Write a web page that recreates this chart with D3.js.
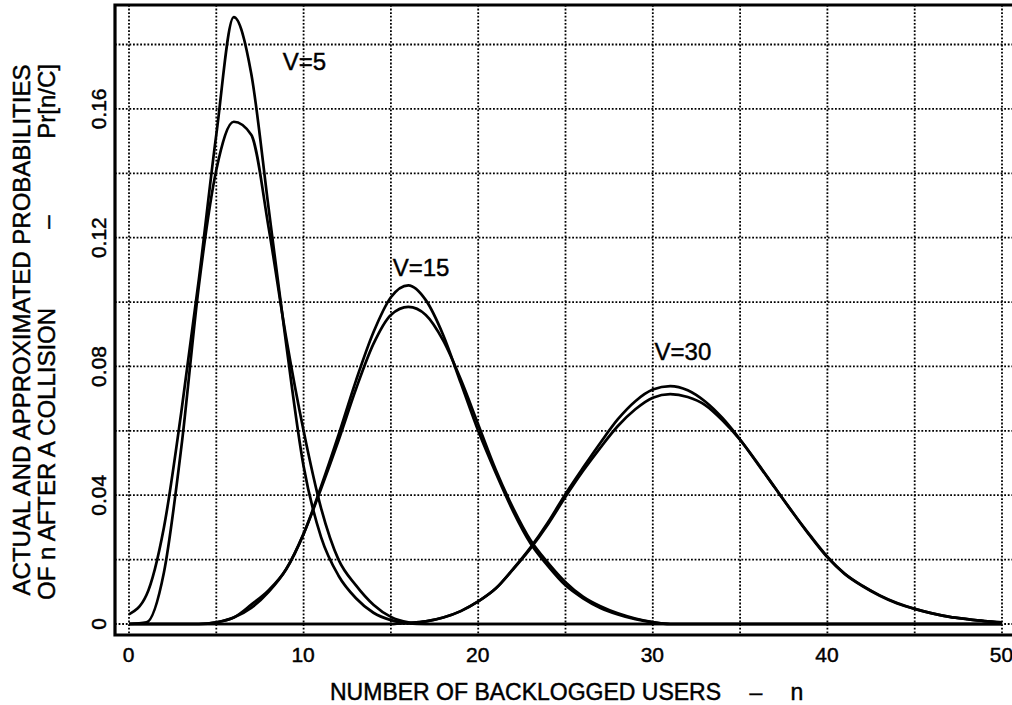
<!DOCTYPE html>
<html>
<head>
<meta charset="utf-8">
<script src="https://cdn.jsdelivr.net/npm/d3@7"></script>
<style>
  html, body { margin: 0; padding: 0; background: #fff; }
  svg { display: block; }
  text { font-family: "Liberation Sans", Arial, sans-serif; fill: #000; stroke: #000; stroke-width: 0.45px; }
</style>
</head>
<body>
<svg id="chart" width="1012" height="705"></svg>
<script>
// ---------- data ----------
const nValues = d3.range(0, 51);           // n = 0 .. 50
const xTicks = [0, 10, 20, 30, 40, 50];
const yTicks = [0, 0.04, 0.08, 0.12, 0.16];
const yTickLabels = ["0", "0.04", "0.08", "0.12", "0.16"];
const xGrid = [0, 5, 10, 15, 20, 25, 30, 35, 40, 45, 50];
const yGrid = [0, 0.02, 0.04, 0.06, 0.08, 0.10, 0.12, 0.14, 0.16, 0.18];

// V = 5 : taller curve and lower curve
const v5a = [0.003, 0.009, 0.030, 0.066, 0.107, 0.152, 0.1885, 0.171, 0.129, 0.087,
             0.049, 0.027, 0.015, 0.008, 0.0035, 0.0012, 0.0002, 0, 0, 0,
             0, 0, 0, 0, 0, 0, 0, 0, 0, 0,
             0, 0, 0, 0, 0, 0, 0, 0, 0, 0,
             0, 0, 0, 0, 0, 0, 0, 0, 0, 0, 0];
const v5b = [0, 0.0005, 0.016, 0.055, 0.105, 0.141, 0.156, 0.152, 0.123, 0.089,
             0.060, 0.036, 0.020, 0.012, 0.006, 0.0022, 0.0005, 0, 0, 0,
             0, 0, 0, 0, 0, 0, 0, 0, 0, 0,
             0, 0, 0, 0, 0, 0, 0, 0, 0, 0,
             0, 0, 0, 0, 0, 0, 0, 0, 0, 0, 0];
// V = 15
const v15a = [0, 0, 0, 0, 0, 0.0005, 0.002, 0.006, 0.0105, 0.017,
              0.028, 0.0427, 0.0587, 0.0756, 0.0906, 0.1015, 0.1052, 0.1006, 0.0897, 0.0749,
              0.060, 0.047, 0.035, 0.025, 0.018, 0.012, 0.008, 0.005, 0.003, 0.0015,
              0.0005, 0, 0, 0, 0, 0, 0, 0, 0, 0,
              0, 0, 0, 0, 0, 0, 0, 0, 0, 0, 0];
const v15b = [0, 0, 0, 0, 0, 0.0005, 0.002, 0.005, 0.010, 0.017,
              0.028, 0.042, 0.057, 0.073, 0.087, 0.096, 0.0985, 0.096, 0.088, 0.076,
              0.062, 0.048, 0.036, 0.026, 0.019, 0.013, 0.0085, 0.0055, 0.0033, 0.0017,
              0.0006, 0, 0, 0, 0, 0, 0, 0, 0, 0,
              0, 0, 0, 0, 0, 0, 0, 0, 0, 0, 0];
// V = 30
const v30a = [0, 0, 0, 0, 0, 0, 0, 0, 0, 0,
              0, 0, 0, 0, 0, 0, 0.0003, 0.0008, 0.002, 0.004,
              0.007, 0.011, 0.0171, 0.0238, 0.0316, 0.0404, 0.0485, 0.0563, 0.0636, 0.0692,
              0.0728, 0.0739, 0.0726, 0.0691, 0.0639, 0.0573, 0.0498, 0.0423, 0.0348, 0.0274,
              0.0207, 0.0155, 0.0118, 0.0088, 0.0064, 0.0047, 0.0033, 0.0022, 0.0015, 0.0009, 0.0005];
const v30b = [0, 0, 0, 0, 0, 0, 0, 0, 0, 0,
              0, 0, 0, 0, 0, 0, 0.0003, 0.0008, 0.002, 0.004,
              0.007, 0.011, 0.017, 0.0235, 0.031, 0.0395, 0.0475, 0.0548, 0.0615, 0.0667,
              0.0703, 0.0714, 0.0705, 0.0680, 0.0632, 0.0572, 0.050, 0.0423, 0.0347, 0.0276,
              0.0209, 0.0156, 0.0119, 0.0089, 0.0065, 0.0047, 0.0033, 0.0022, 0.0015, 0.0009, 0.0005];

const seriesList = [v5a, v5b, v15a, v15b, v30a, v30b];
const curveLabels = [
  { text: "V=5",  n: 8.8,  v: 0.172 },
  { text: "V=15", n: 15.1, v: 0.108 },
  { text: "V=30", n: 30.1, v: 0.082 }
];

// ---------- drawing ----------
const svg = d3.select("#chart");
const frame = { left: 115, top: 5, right: 1012, bottom: 635 };

const x = d3.scaleLinear().domain([0, 50]).range([129, 1002]);
const y = d3.scaleLinear().domain([0, 0.18]).range([624, 44.5]);

// dotted grid
const grid = svg.append("g").attr("stroke", "#000").attr("stroke-width", 1.8)
  .attr("stroke-dasharray", "1.8,1.8").attr("fill", "none");
grid.selectAll("line.v").data(xGrid).join("line").attr("class", "v")
  .attr("x1", d => x(d)).attr("x2", d => x(d))
  .attr("y1", frame.top).attr("y2", frame.bottom);
grid.selectAll("line.h").data(yGrid).join("line").attr("class", "h")
  .attr("y1", d => y(d)).attr("y2", d => y(d))
  .attr("x1", frame.left).attr("x2", frame.right);

// curves
const line = d3.line()
  .x((d, i) => x(nValues[i]))
  .y(d => y(d))
  .curve(d3.curveMonotoneX);
svg.append("g").selectAll("path").data(seriesList).join("path")
  .attr("d", d => line(d))
  .attr("fill", "none").attr("stroke", "#000").attr("stroke-width", 2.7)
  .attr("stroke-linejoin", "round");

// frame (left, top, bottom)
svg.append("path")
  .attr("d", `M${frame.right},${frame.top} L${frame.left},${frame.top} L${frame.left},${frame.bottom} L${frame.right},${frame.bottom}`)
  .attr("fill", "none").attr("stroke", "#000").attr("stroke-width", 3.2);

// x tick labels via axis generator (no tick lines)
const xAxis = d3.axisBottom(x).tickValues(xTicks).tickSize(0).tickPadding(0)
  .tickFormat(d3.format("d"));
const gx = svg.append("g").attr("transform", "translate(-1,647)").call(xAxis);
gx.select(".domain").remove();
gx.selectAll("text").attr("font-size", 21).attr("dy", "0.71em")
  .style("font-family", '"Liberation Sans", Arial, sans-serif').attr("fill", "#000");

// y tick labels (rotated)
svg.append("g").selectAll("text").data(yTicks).join("text")
  .attr("transform", d => `translate(106,${y(d)}) rotate(-90)`)
  .attr("text-anchor", "middle").attr("font-size", 21)
  .text((d, i) => yTickLabels[i]);

// x axis title
const xt = svg.append("g").attr("font-size", 23);
xt.append("text").attr("x", 330).attr("y", 700).text("NUMBER OF BACKLOGGED USERS");
xt.append("text").attr("x", 756).attr("y", 700).attr("text-anchor", "middle").text("\u2013");
xt.append("text").attr("x", 797).attr("y", 700).attr("text-anchor", "middle").text("n");

// y axis title (two rotated lines)
svg.append("text").attr("transform", "translate(30,330) rotate(-90)")
  .attr("text-anchor", "middle").attr("font-size", 24)
  .text("ACTUAL AND APPROXIMATED PROBABILITIES");
const yt2 = svg.append("g").attr("font-size", 24);
yt2.append("text").attr("transform", "translate(55,600) rotate(-90)")
  .attr("text-anchor", "start").text("OF n AFTER A COLLISION");
yt2.append("text").attr("transform", "translate(55,222) rotate(-90)")
  .attr("text-anchor", "middle").text("\u2013");
yt2.append("text").attr("transform", "translate(55,64) rotate(-90)")
  .attr("text-anchor", "end").text("Pr[n/C]");

// curve labels
svg.append("g").selectAll("text").data(curveLabels).join("text")
  .attr("x", d => x(d.n)).attr("y", d => y(d.v))
  .attr("font-size", 24)
  .text(d => d.text);
</script>
</body>
</html>
